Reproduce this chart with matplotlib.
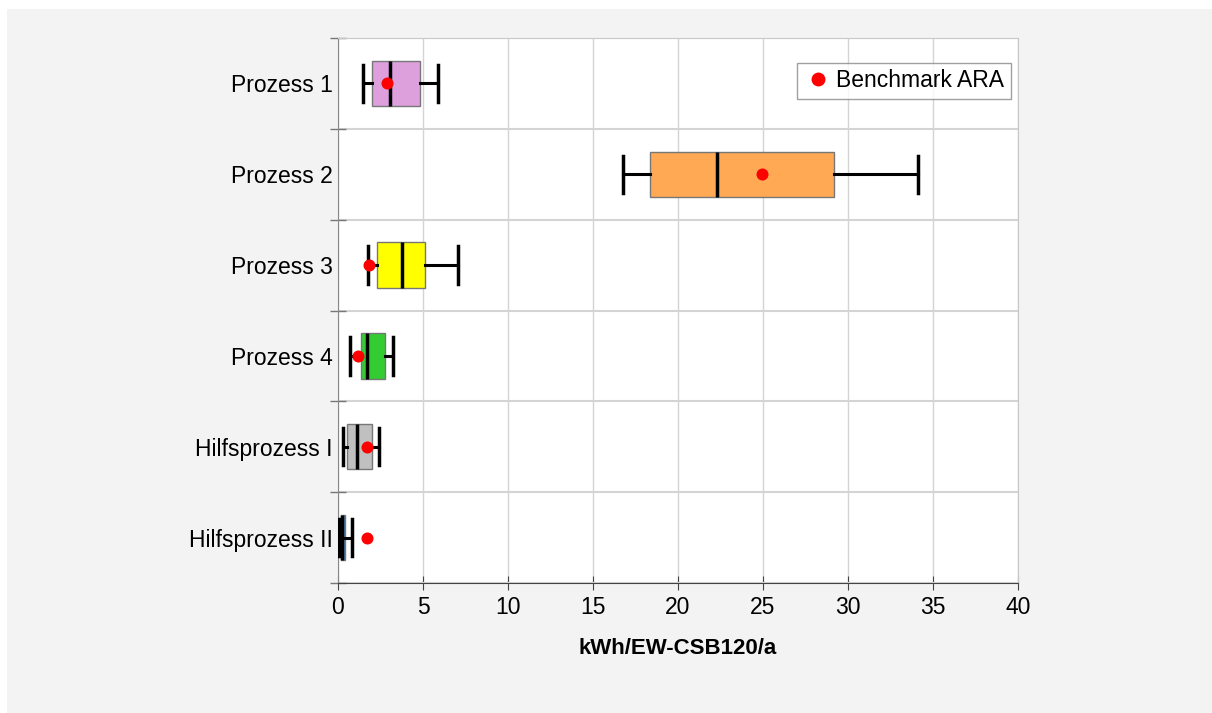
import numpy as np
import matplotlib
matplotlib.use("Agg")
import matplotlib.pyplot as plt
from matplotlib.patches import Rectangle
from matplotlib.lines import Line2D

plt.rcParams['font.family'] = ['Liberation Sans', 'DejaVu Sans']

# data, top to bottom
categories = ["Prozess 1", "Prozess 2", "Prozess 3", "Prozess 4",
              "Hilfsprozess I", "Hilfsprozess II"]
whisker_lo = [1.47, 16.76, 1.76, 0.71, 0.31, 0.05]
q1 = [2.00, 18.35, 2.29, 1.35, 0.51, 0.16]
median = [3.06, 22.27, 3.76, 1.69, 1.10, 0.22]
q3 = [4.82, 29.18, 5.12, 2.76, 1.98, 0.43]
whisker_hi = [5.88, 34.10, 7.06, 3.22, 2.43, 0.84]
benchmark = [2.88, 24.94, 1.82, 1.20, 1.69, 1.72]
colors = ["#dda0dd", "#ffa955", "#ffff00", "#33cc33", "#c0c0c0", "#4682b4"]

W, H = 1212, 713
fig = plt.figure(figsize=(W / 100, H / 100), dpi=100, facecolor="white")
fig.patches.append(Rectangle((7 / W, 0), 1 - 7 / W, 1 - 9 / H,
                             transform=fig.transFigure, facecolor="#f3f3f3",
                             edgecolor="none", zorder=-10))

left, right, top, bottom = 338, 1018, 38, 583
ax = fig.add_axes([left / W, 1 - bottom / H, (right - left) / W, (bottom - top) / H])
ax.set_facecolor("white")

n = len(categories)
pos = np.arange(n)[::-1] + 0.5   # first category at top

stats = []
for i in range(n):
    stats.append(dict(whislo=whisker_lo[i], q1=q1[i], med=median[i],
                      q3=q3[i], whishi=whisker_hi[i], fliers=[]))

bp = ax.bxp(stats, positions=pos, vert=False, widths=0.5, capwidths=0.41,
            patch_artist=True, showfliers=False, manage_ticks=False,
            boxprops=dict(edgecolor="#777777", linewidth=1.0),
            medianprops=dict(color="black", linewidth=2.5),
            whiskerprops=dict(color="black", linewidth=2.2),
            capprops=dict(color="black", linewidth=2.5))
for patch, c in zip(bp['boxes'], colors):
    patch.set_facecolor(c)
for el in bp['boxes'] + bp['medians'] + bp['whiskers'] + bp['caps']:
    el.set_zorder(3)

ax.scatter(benchmark, pos, s=75, color="#ff0000", zorder=5, linewidths=0)

ax.set_xlim(0, 40)
ax.set_ylim(0, n)
ax.set_xticks(np.arange(0, 41, 5))
ax.set_yticks(pos)
ax.set_yticklabels(categories, fontsize=16.5)
ax.set_yticks(np.arange(0, n + 1), minor=True)
ax.tick_params(axis='y', which='major', length=0, pad=4)
ax.tick_params(axis='y', which='minor', direction='inout', length=12,
               color="#777777", width=1)
ax.tick_params(axis='x', direction='inout', length=10, color="#444444",
               labelsize=16.5, pad=4)
ax.grid(True, axis='x', color="#d4d4d4", linewidth=1, zorder=0)
ax.grid(True, axis='y', which='minor', color="#d4d4d4", linewidth=1.5, zorder=0)
ax.set_axisbelow(True)

for s in ['top', 'right']:
    ax.spines[s].set_color("#c8c8c8")
ax.spines['left'].set_color("#888888")
ax.spines['bottom'].set_color("#444444")

ax.set_xlabel("kWh/EW-CSB120/a", fontsize=16, fontweight='bold', labelpad=14)

handle = Line2D([], [], linestyle='none', marker='o', markersize=10,
                markerfacecolor="#ff0000", markeredgecolor="none")
leg = ax.legend([handle], ["Benchmark ARA"], loc='upper right',
                bbox_to_anchor=(0.99, 0.955), fontsize=16.5, frameon=True,
                fancybox=False, handletextpad=0.2, borderpad=0.3,
                handlelength=1.2, borderaxespad=0)
leg.get_frame().set_edgecolor("#888888")
leg.get_frame().set_linewidth(1)

fig.savefig("out.png", dpi=100, facecolor=fig.get_facecolor())
